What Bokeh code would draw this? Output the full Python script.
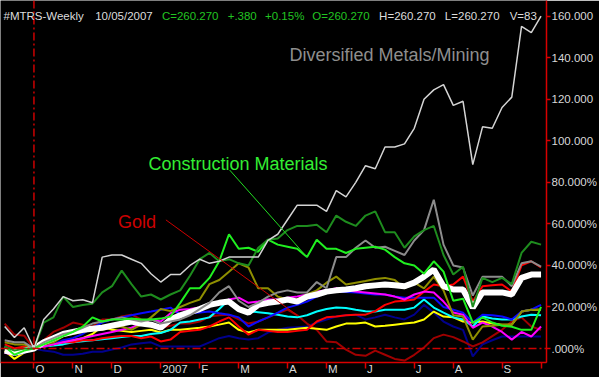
import pandas as pd
from bokeh.plotting import figure
from bokeh.models import (LinearAxis, FixedTicker, Range1d, Span, Label)
from bokeh.embed import file_html
from bokeh.resources import INLINE

# ---------------- data (percent change since 10/06/2006, weekly) ----------------
dates = pd.date_range("2006-09-15", "2007-10-05", freq="W-FRI")

diversified_metals = [10.6, 5.3, 10, 0, 14, 19, 25, 23, 23.5, 22, 44, 45, 45, 43, 41, 36,
                      32, 35.6, 35.6, 40, 43, 41, 42, 44, 44, 44, 44, 52, 55, 62, 69, 69,
                      69, 66, 76, 73, 80, 88, 86.5, 97, 97, 98.5, 106, 120, 124.5, 127,
                      117, 119, 88.5, 106.7, 106, 116, 121, 155, 152, 160]
dark_green = [1, -1, 0, 0, 12.5, 15, 25, 20, 21, 21.6, 27, 30, 37.5, 31, 25, 26,
              23.6, 26, 28, 35, 43, 46, 42, 43, 41, 40, 48.5, 52.4, 53, 57, 59, 59,
              59.6, 56, 64, 61, 59, 64, 66, 56, 56, 48.5, 54, 57, 59, 45, 35.6, 39.4,
              20, 34, 32, 34, 31, 46, 51.4, 50]
construction_materials = [1, -3, -1, 0, 2, 4, 6, 8, 10.5, 15, 13, 14, 14, 14.5, 14, 14,
                          14.4, 15.4, 22, 29, 29, 34, 42, 55, 48, 48.5, 46.6, 52.4, 50, 49,
                          48, 44, 52.4, 48, 48, 46, 48, 48.5, 49, 47.6, 44, 41, 40, 36, 42,
                          37, 23, 24, 12.5, 15, 12.5, 11, 10.5, 9, 9, 20]
gray_series = [4, 3, 3, 0, 3, 5, 7, 8, 10, 12, 13, 14, 15, 14, 13, 14, 12, 13, 14, 16,
               19, 22, 27, 30, 23, 20, 22, 25, 27, 28, 27, 27, 32, 29, 44, 44, 48.5, 52,
               48.5, 49, 47, 45, 52, 57, 71.6, 50, 40, 39, 25.5, 34.6, 34.6, 34.6, 30,
               41, 42, 39.4]
olive_series = [3, 2, 2, 0, 2, 3, 6, 7, 8, 9, 9, 10, 10.6, 9, 11.5, 15, 19, 18, 20, 22,
                23.6, 31, 33, 37, 41, 39, 29, 29, 25, 23.6, 23.6, 26, 28, 31.7, 34.6,
                30.8, 31.7, 32.5, 33.5, 34, 33, 29, 31.7, 29, 34.6, 28, 16, 15.4, 4.3,
                10.6, 11, 11.5, 11.5, 17.8, 18.7, 18.7]
mtrs_index = [-1, -2, -1, 0, 3, 5, 7, 8, 9, 9.5, 10, 11, 12, 13, 12, 11.5, 10, 14, 16,
              17.5, 19, 21, 22, 22.6, 19, 17.3, 21, 22, 22.6, 23.6, 22.6, 25, 26, 27.4,
              28, 28.4, 29, 30, 30.4, 30.8, 30.5, 30, 31.7, 34.6, 38, 30, 28.4, 28.4,
              19.7, 27, 27, 27, 26, 34, 35.6, 35.6]
red_series = [2, 0, 1, 0, 1, 2, 3, 3, 4, 4, 5, 5.5, 6, 6, 5, 5.8, 3.4, 4.3, 8, 8.5, 9,
              10.6, 13, 15, 10.6, 6.7, 9, 8.5, 8, 8, 8.5, 9, 13, 15, 15.4, 16, 16.3, 16.3,
              18, 21, 22.6, 23, 23.6, 27.4, 30.8, 30, 30.8, 34.6, 22.6, 30, 30.5, 30.8,
              27.4, 40, 42, 39]
magenta_series = [-2, -3, -1, 0, 1, 2, 3, 4, 5, 6, 7, 8, 9, 10, 12, 14, 13, 17, 18.7, 19,
                  19.7, 21, 22, 23.6, 24.5, 22, 22.6, 23.6, 23.6, 24.5, 25, 26, 27.4, 28,
                  29, 28, 27.4, 27, 26.5, 26, 25, 23.6, 26, 27.4, 27, 22.6, 17.3, 16.3,
                  10, 12.5, 10.6, 8, 4.3, 8, 5.8, 10.6]
cyan_series = [0, -2, -1, 0, 1, 1.5, 2, 3, 3.5, 4, 4.5, 5, 5.5, 6, 6, 7, 7.5, 9, 12.5,
               13, 14, 15, 19, 23.6, 19, 18, 17.5, 17, 16.3, 15.4, 15, 16, 17.8, 19, 19.7,
               19.5, 18.7, 18, 17.8, 18.7, 18.7, 18.7, 19.7, 23.6, 19.7, 17.3, 15, 14,
               10.6, 15.4, 14.5, 14, 14, 15.4, 16.3, 16]
blue_series = [1, -3, -2, 0, 1, 2, 4, 5, 7, 10, 12.5, 14, 15, 16, 17, 17.8, 18.7, 19.7,
               16.3, 17, 17.3, 17.8, 17, 16.3, 15, 10.6, 13, 15, 17.3, 19.7, 21, 22.6, 25,
               27.4, 27.4, 27.2, 27, 26.5, 26, 26, 25, 24.5, 24.5, 24.5, 24.5, 20, 18.7,
               17.3, 12.5, 16.3, 16, 15.4, 14, 17.8, 18.7, 21]
yellow_series = [-1, -5, -2, 0, 1, 2, 3, 4, 5, 7, 10.6, 9, 8.5, 8, 8.5, 9, 7.7, 9, 9,
                 9.5, 10, 10.6, 11.5, 12.5, 9, 7.7, 9, 9, 9, 9, 9.5, 10, 9.5, 9, 10.6, 12,
                 12, 12.5, 10.6, 11, 11.5, 12, 12.5, 14, 17.8, 15.4, 15, 13, 12.5, 13, 12,
                 11.5, 11.5, 17.8, 18.7, 18.7]
navy_series = [-1, -2, -1, 0, -1, -1.5, -3, -3, -2.5, -1.5, -1.5, -0.5, 0.5, 2, 2.5, 3,
               1, 1, 1, 1, 1, 3, 5, 6, 5, 4.3, 5, 7.7, 9, 10, 10.3, 10.6, 12.5, 14, 15.4,
               16, 16.3, 14, 15, 16.3, 15, 14, 16.3, 21, 17.3, 13, 10.6, 9, -3.8, 2, 4,
               5.8, 5.8, 5.8, 5.8, 5.8]
gold = [12, 6.7, 6.2, 0, 4, 8, 10, 12.5, 11.5, 10.6, 14, 14, 15.4, 16.3, 14, 12, 10, 11,
        12, 12, 13, 15.4, 16, 16.3, 14, 12, 13, 15, 17, 18.7, 16, 12, 9, 3.4, 3, -0.5,
        -3, -3.5, -1, -3, -5, -5.8, -3, 0.5, 5, 6.7, 5.5, 3.4, 1, 3, 6, 9, 13, 15, 10.6, 9]

month_ticks = ["2006-10-06", "2006-11-03", "2006-12-01", "2007-01-05", "2007-02-02",
               "2007-03-02", "2007-04-06", "2007-05-04", "2007-06-01", "2007-07-06",
               "2007-08-03", "2007-09-07", "2007-10-05"]
month_labels = ["O", "N", "D", "2007", "F", "M", "A", "M", "J", "J", "A", "S"]
y_ticks = [0, 20, 40, 60, 80, 100, 120, 140, 160]
y_tick_labels = [".000%", "20.000%", "40.000%", "60.000%", "80.000%",
                 "100.000", "120.000", "140.000", "160.000"]

header = [("#MTRS-Weekly", "#dcdcdc"), ("10/05/2007", "#dcdcdc"),
          ("C=260.270", "#22c422"), ("+.380", "#22c422"), ("+0.15%", "#22c422"),
          ("O=260.270", "#22c422"), ("H=260.270", "#dcdcdc"),
          ("L=260.270", "#dcdcdc"), ("V=83", "#dcdcdc")]
header_px = [3, 95, 162, 228, 265.5, 313, 380, 446, 511]

# ---------------- geometry ----------------
WEEK_MS = 7 * 24 * 3600 * 1000
to_ms = lambda d: pd.Timestamp(d).value / 1e6
x_start = to_ms(dates[0]) - 0.43 * WEEK_MS
x_end = to_ms(dates[-1]) + 0.56 * WEEK_MS
y_start, y_end = -6.72, 167.5
FRAME_W, FRAME_H = 548, 363
MS_PER_PX = (x_end - x_start) / FRAME_W

def px_x(px):
    return x_start + (x_end - x_start) * px / FRAME_W

def px_y(py):
    return y_end - (y_end - y_start) * py / FRAME_H

FONT = "Liberation Sans"
FS = 11.5
RED = "#d80000"
# Arial advance widths (em) used to place month labels just right of their ticks
ADV = {"O": .778, "N": .722, "D": .722, "2": .556, "0": .556, "7": .556, "F": .611,
       "M": .833, "A": .667, "J": .5, "S": .667}

def label_center_ms(tick, text):
    w = sum(ADV[c] for c in text) * FS
    return int(round(to_ms(tick) + (1.5 + w / 2) * MS_PER_PX))

label_pos = [label_center_ms(t, s) for t, s in zip(month_ticks, month_labels)]

p = figure(width=599, height=377, output_backend="svg", toolbar_location=None,
           x_range=Range1d(x_start, x_end), y_range=Range1d(y_start, y_end),
           x_axis_location=None, y_axis_location=None,
           background_fill_color="black", border_fill_color="black",
           outline_line_color=None, min_border_left=0, min_border_top=0,
           min_border_right=51, min_border_bottom=14)
p.grid.visible = False

# bottom axis: red month ticks (as minor ticks) + labels beside them
xax = LinearAxis(ticker=FixedTicker(ticks=label_pos,
                                    minor_ticks=[to_ms(t) for t in month_ticks]),
                 major_label_overrides={k: s for k, s in zip(label_pos, month_labels)},
                 axis_line_color=RED, axis_line_width=1.5,
                 major_tick_line_color=None, major_tick_out=0, major_tick_in=0,
                 minor_tick_line_color=RED, minor_tick_line_width=1.5,
                 minor_tick_out=6, minor_tick_in=0,
                 major_label_standoff=-6, major_label_text_font=FONT,
                 major_label_text_font_size=f"{FS}px", major_label_text_color="#d8d8d8")
p.add_layout(xax, "below")

yax = LinearAxis(ticker=FixedTicker(ticks=y_ticks),
                 major_label_overrides={t: s for t, s in zip(y_ticks, y_tick_labels)},
                 axis_line_color=RED, axis_line_width=1.5,
                 major_tick_line_color=RED, major_tick_line_width=1.5,
                 major_tick_out=4, major_tick_in=0, minor_tick_line_color=None,
                 major_label_standoff=1, major_label_text_font=FONT,
                 major_label_text_font_size=f"{FS}px", major_label_text_color="#d8d8d8")
p.add_layout(yax, "right")

# reference lines
p.add_layout(Span(location=to_ms(month_ticks[0]), dimension="height",
                  line_color="#cc0000", line_width=1.5, line_dash="8 3 2 3"))
p.add_layout(Span(location=0, dimension="width",
                  line_color="#cc0000", line_width=1.5, line_dash="8 3 2 3"))

# series
series = [
    (navy_series, "#00008c", 2),
    (gold, "#a00000", 2),
    (yellow_series, "#ffff00", 2),
    (cyan_series, "#00ffff", 2),
    (blue_series, "#0a0aff", 2),
    (red_series, "#ff0000", 2),
    (magenta_series, "#ff00ff", 2),
    (olive_series, "#8f8f00", 2),
    (mtrs_index, "#ffffff", 6),
    (gray_series, "#8c8c8c", 2),
    (construction_materials, "#20f020", 2),
    (dark_green, "#1e8c1e", 2),
    (diversified_metals, "#d4d4d4", 1.5),
]
for vals, col, w in series:
    assert len(vals) == len(dates)
    p.line(dates, vals, line_color=col, line_width=w)

# header line
for (txt, col), px in zip(header, header_px):
    p.add_layout(Label(x=px_x(px), y=px_y(15.8), text=txt, text_font=FONT,
                       text_font_size=f"{FS}px", text_color=col,
                       text_baseline="alphabetic"))

# annotations
p.add_layout(Label(x=px_x(290), y=px_y(54.5), text="Diversified Metals/Mining",
                   text_font=FONT, text_font_size="18px", text_color="#8e8e8e",
                   text_baseline="alphabetic"))
p.add_layout(Label(x=px_x(148.5), y=px_y(163.5), text="Construction Materials",
                   text_font=FONT, text_font_size="18px", text_color="#33ee33",
                   text_baseline="alphabetic"))
p.add_layout(Label(x=px_x(118), y=px_y(222), text="Gold",
                   text_font=FONT, text_font_size="18px", text_color="#cc0000",
                   text_baseline="alphabetic"))

p.segment(x0=[px_x(230)], y0=[px_y(170)],
          x1=[dates[31]], y1=[construction_materials[31]],
          line_color="#22dd22", line_width=1)
p.segment(x0=[px_x(166)], y0=[px_y(220)],
          x1=[dates[30]], y1=[gold[30]],
          line_color="#cc0000", line_width=1)

open("out.html", "w").write(file_html(p, INLINE))
